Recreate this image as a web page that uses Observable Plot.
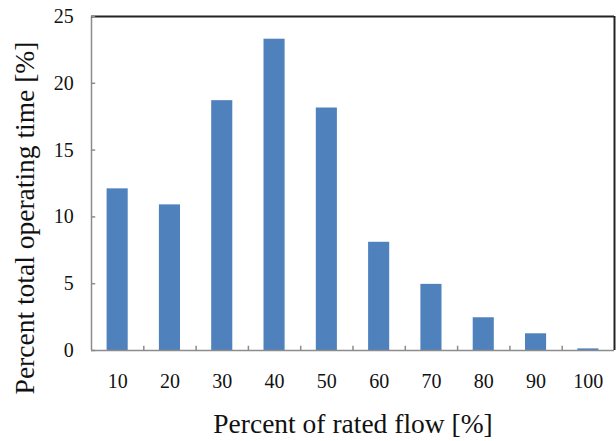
<!DOCTYPE html>
<html>
<head>
<meta charset="utf-8">
<script src="https://cdn.jsdelivr.net/npm/d3@7"></script>
<script src="https://cdn.jsdelivr.net/npm/@observablehq/plot@0.6"></script>
<style>
  html, body { margin: 0; padding: 0; background: #fff; }
  svg { font-family: "Liberation Serif", "DejaVu Serif", serif; }
  #chart svg g[aria-label$="tick label"] { font-size: 20px; }
  #chart svg g[aria-label$="tick label"] text { font-size: 20px; }
</style>
</head>
<body>
<div id="chart"></div>
<script>
const flow = [10, 20, 30, 40, 50, 60, 70, 80, 90, 100];
const share = [12.1, 10.9, 18.7, 23.3, 18.15, 8.1, 4.95, 2.45, 1.25, 0.12];
const yTicks = [0, 5, 10, 15, 20, 25];
const xTitle = "Percent of rated flow [%]";
const yTitle = "Percent total operating time [%]";

const data = flow.map((f, i) => ({flow: f, share: share[i]}));
const boundaries = flow.slice(0, -1).map(f => f + 5);
const xMin = flow[0] - 5, xMax = flow[flow.length - 1] + 5;

const chart = Plot.plot({
  width: 616,
  height: 441,
  marginLeft: 91,
  marginRight: 2,
  marginTop: 16,
  marginBottom: 91,
  style: {fontFamily: "Liberation Serif, serif", fontSize: "20px", background: "#fff", color: "#111"},
  x: {domain: [xMin, xMax]},
  y: {domain: [0, 25]},
  marks: [
    Plot.rectY(data, {x1: d => d.flow - 5, x2: d => d.flow + 5, y: "share", fill: "#4F81BD", insetLeft: 15.6, insetRight: 15.6}),
    Plot.ruleY([0], {stroke: "#8c8c8c", strokeWidth: 1.5}),
    Plot.ruleX([xMin], {stroke: "#8c8c8c", strokeWidth: 1.5}),
    Plot.ruleY([25], {stroke: "#222", strokeWidth: 2}),
    Plot.ruleX([xMax], {stroke: "#222", strokeWidth: 2}),
    Plot.ruleX(boundaries, {x: d => d, y1: 0, y2: 0.32, stroke: "#8c8c8c", strokeWidth: 1.5}),
    Plot.ruleY(yTicks, {y: d => d, x1: xMin, x2: xMin + 0.8, stroke: "#8c8c8c", strokeWidth: 1.5}),
    Plot.axisX({ticks: flow, tickSize: 0, tickPadding: 23, fontSize: 20, label: null, tickFormat: d => String(d)}),
    Plot.axisY({ticks: yTicks, tickSize: 0, tickPadding: 17.7, fontSize: 20, label: null}),
    Plot.text([xTitle], {frameAnchor: "bottom", textAnchor: "middle", lineAnchor: "middle", dy: 73.4, fontSize: 27.5, fill: "#111"}),
    Plot.text([yTitle], {frameAnchor: "left", textAnchor: "middle", lineAnchor: "middle", rotate: -90, dx: -66.6, dy: 34.5, fontSize: 27.5, fill: "#111"})
  ]
});
document.getElementById("chart").appendChild(chart);
</script>
</body>
</html>
